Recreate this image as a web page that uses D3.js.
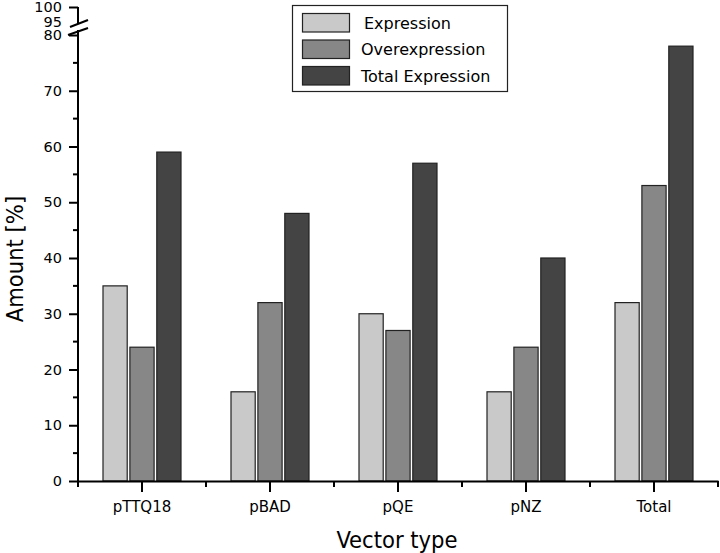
<!DOCTYPE html>
<html><head><meta charset="utf-8">
<script src="https://cdn.jsdelivr.net/npm/d3@7"></script>
<style>body{margin:0;background:#fff}svg{display:block;font-family:"DejaVu Sans",Verdana,sans-serif}</style>
</head><body>
<svg id="c" width="720" height="553"></svg>
<script>
const categories = ["pTTQ18", "pBAD", "pQE", "pNZ", "Total"];
const seriesNames = ["Expression", "Overexpression", "Total Expression"];
const expression = [35, 16, 30, 16, 32];
const overexpression = [24, 32, 27, 24, 53];
const totalExpression = [59, 48, 57, 40, 78];
const lowerTicks = [0, 10, 20, 30, 40, 50, 60, 70, 80];
const upperTicks = [95, 100];
const colors = ["#c9c9c9", "#878787", "#444444"];

const FONT = "DejaVu Sans";
const TITLE_FONT = "'DejaVu Sans Condensed', 'DejaVu Sans'";
const series = [expression, overexpression, totalExpression];
const svg = d3.select("#c");
const x0 = 78, x1 = 718;
const x = d3.scaleBand().domain(categories).range([x0, x1]);
const xs = d3.scaleBand().domain([0,1,2]).range([-39, 39]).paddingInner(0.1);
const y = d3.scaleLinear().domain([0, 80]).range([481, 35]);
const yU = d3.scaleLinear().domain([95, 100]).range([21.5, 7]);

// bars
categories.forEach((c, i) => {
  series.forEach((s, j) => {
    svg.append("rect")
      .attr("x", x(c) + x.bandwidth()/2 + xs(j))
      .attr("y", y(s[i]))
      .attr("width", xs.bandwidth())
      .attr("height", y(0) - y(s[i]))
      .attr("fill", colors[j])
      .attr("stroke", "#222").attr("stroke-width", 1.2);
  });
});

// y axis lower
const gy = svg.append("g").attr("transform", `translate(${x0},0)`)
  .call(d3.axisLeft(y).tickValues(lowerTicks).tickSize(9).tickPadding(7).tickSizeOuter(0).tickFormat(d3.format("d")));
gy.select(".domain").remove();
gy.append("g").selectAll("line").data(d3.range(5, 80, 10)).join("line")
  .attr("x1", -5).attr("x2", 0).attr("y1", d => y(d)).attr("y2", d => y(d));
// upper
const gyU = svg.append("g").attr("transform", `translate(${x0},0)`)
  .call(d3.axisLeft(yU).tickValues(upperTicks).tickSize(9).tickPadding(7).tickSizeOuter(0).tickFormat(d3.format("d")));
gyU.select(".domain").remove();
gyU.selectAll(".tick").filter(d => d === 95).select("line").remove();
[gy, gyU].forEach(g => {
  g.attr("font-family", FONT);
  g.selectAll("line").attr("stroke", "#000").attr("stroke-width", 2);
  g.selectAll("text").attr("font-size", 14.5).attr("fill", "#000");
});
// axis lines with break
svg.append("line").attr("x1", x0).attr("x2", x0).attr("y1", y(0)+1).attr("y2", 30).attr("stroke", "#000").attr("stroke-width", 2);
svg.append("line").attr("x1", x0).attr("x2", x0).attr("y1", 24).attr("y2", yU(100)).attr("stroke", "#000").attr("stroke-width", 2);
svg.append("line").attr("x1", 70).attr("x2", 88).attr("y1", 27).attr("y2", 20).attr("stroke", "#000").attr("stroke-width", 2);
svg.append("line").attr("x1", 68).attr("x2", 88).attr("y1", 35).attr("y2", 28).attr("stroke", "#000").attr("stroke-width", 2);

// x axis
const gx = svg.append("g").attr("transform", `translate(0,${y(0)})`)
  .call(d3.axisBottom(x).tickSize(11).tickPadding(9).tickSizeOuter(0));
gx.attr("font-family", FONT);
gx.select(".domain").attr("stroke", "#000").attr("stroke-width", 2);
gx.selectAll("line").attr("stroke", "#000").attr("stroke-width", 2);
gx.selectAll("text").attr("font-size", 15).attr("fill", "#000");
gx.append("g").selectAll("line").data(d3.range(0, 6)).join("line")
  .attr("x1", d => x0 + d * x.step()).attr("x2", d => x0 + d * x.step())
  .attr("y1", 0).attr("y2", 6).attr("stroke", "#000").attr("stroke-width", 2);

// titles
svg.append("text").attr("x", 397).attr("y", 548).attr("text-anchor", "middle")
  .attr("font-family", TITLE_FONT).attr("font-size", 23.5).text("Vector type");
svg.append("text").attr("transform", "translate(23,259) rotate(-90)").attr("text-anchor", "middle")
  .attr("font-family", TITLE_FONT).attr("font-size", 23.5).text("Amount [%]");

// legend
const lg = svg.append("g").attr("font-family", FONT);
lg.append("rect").attr("x", 292.5).attr("y", 5.5).attr("width", 215).attr("height", 86)
  .attr("fill", "#fff").attr("stroke", "#222").attr("stroke-width", 1.2);
seriesNames.forEach((n, j) => {
  const yy = 13.5 + j * 26.5;
  lg.append("rect").attr("x", 302.5).attr("y", yy).attr("width", 47).attr("height", 18.5)
    .attr("fill", colors[j]).attr("stroke", "#222").attr("stroke-width", 1.2);
  lg.append("text").attr("x", j === 0 ? 364 : 361).attr("y", yy + 15).attr("font-size", 16).text(n);
});
</script>
</body></html>
